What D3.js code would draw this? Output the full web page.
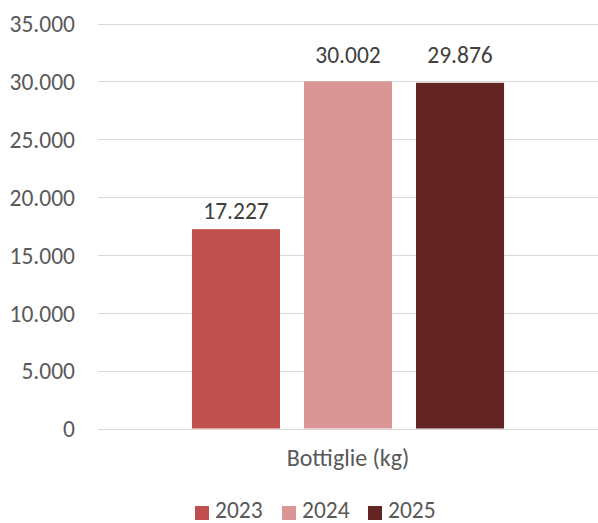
<!DOCTYPE html>
<html><head><meta charset="utf-8">
<script src="https://cdn.jsdelivr.net/npm/d3@7"></script>
<style>body{margin:0;background:#fff}svg{display:block}text{font-family:Carlito,Calibri,Lato,sans-serif}</style>
</head><body><svg id="c" width="598" height="523"></svg>
<script>
const categories = ["Bottiglie (kg)"];
const seriesNames = ["2023", "2024", "2025"];
const values2023 = [17227];
const values2024 = [30002];
const values2025 = [29876];
const yTicks = [0, 5000, 10000, 15000, 20000, 25000, 30000, 35000];
const colors = ["#C0504D", "#DA9694", "#632523"];

(function () {
const series = [values2023, values2024, values2025];
const svg = d3.select("#c");
const fmt = v => d3.format(",")(v).replace(/,/g, ".");
const pL = 98, pR = 598, pT = 23.5, pB = 428.5;
const fs = "23.5px";

const y = d3.scaleLinear().domain([0, 35000]).range([pB, pT]);
const x0 = d3.scaleBand().domain(categories).range([pL, pR]).paddingInner(0).paddingOuter(0.301);
const x1 = d3.scaleBand().domain(seriesNames).range([0, x0.bandwidth()]).paddingInner(0.214).paddingOuter(0);

svg.append("g").selectAll("line").data(yTicks).join("line")
  .attr("x1", pL).attr("x2", pR)
  .attr("y1", d => Math.round(y(d)) + 0.5).attr("y2", d => Math.round(y(d)) + 0.5)
  .attr("stroke", "#d9d9d9").attr("stroke-width", 1);

const yAxis = d3.axisLeft(y).tickValues(yTicks).tickFormat(fmt).tickSize(0).tickPadding(0);
const ga = svg.append("g").attr("transform", `translate(75,0)`).call(yAxis);
ga.select(".domain").remove();
ga.attr("font-family", null).attr("font-size", null);
ga.selectAll("text").attr("fill", "#595959").style("font-size", fs).attr("dy", "0.35em");

const g = svg.append("g");
categories.forEach((c, ci) => {
  seriesNames.forEach((s, si) => {
    const v = series[si][ci];
    const bx = x0(c) + x1(s);
    g.append("rect").attr("x", bx).attr("width", x1.bandwidth())
      .attr("y", y(v)).attr("height", y(0) - y(v)).attr("fill", colors[si]);
    const nearest = yTicks.reduce((a, b) => Math.abs(b - v) < Math.abs(a - v) ? b : a);
    const ly = Math.min(y(v) - 10, y(nearest) - 18);
    g.append("text").attr("x", bx + x1.bandwidth() / 2).attr("y", ly)
      .attr("text-anchor", "middle").attr("fill", "#404040").style("font-size", fs)
      .text(fmt(v));
  });
});

svg.append("g").selectAll("text").data(categories).join("text")
  .attr("x", d => x0(d) + x0.bandwidth() / 2).attr("y", 466)
  .attr("text-anchor", "middle").attr("fill", "#595959").style("font-size", "24px")
  .text(d => d);

const legX = [195, 282, 368];
const lg = svg.append("g");
seriesNames.forEach((s, i) => {
  lg.append("rect").attr("x", legX[i]).attr("y", 506).attr("width", 14).attr("height", 14).attr("fill", colors[i]);
  lg.append("text").attr("x", legX[i] + 20).attr("y", 518).attr("fill", "#595959").style("font-size", fs).text(s);
});
})();
</script></body></html>
